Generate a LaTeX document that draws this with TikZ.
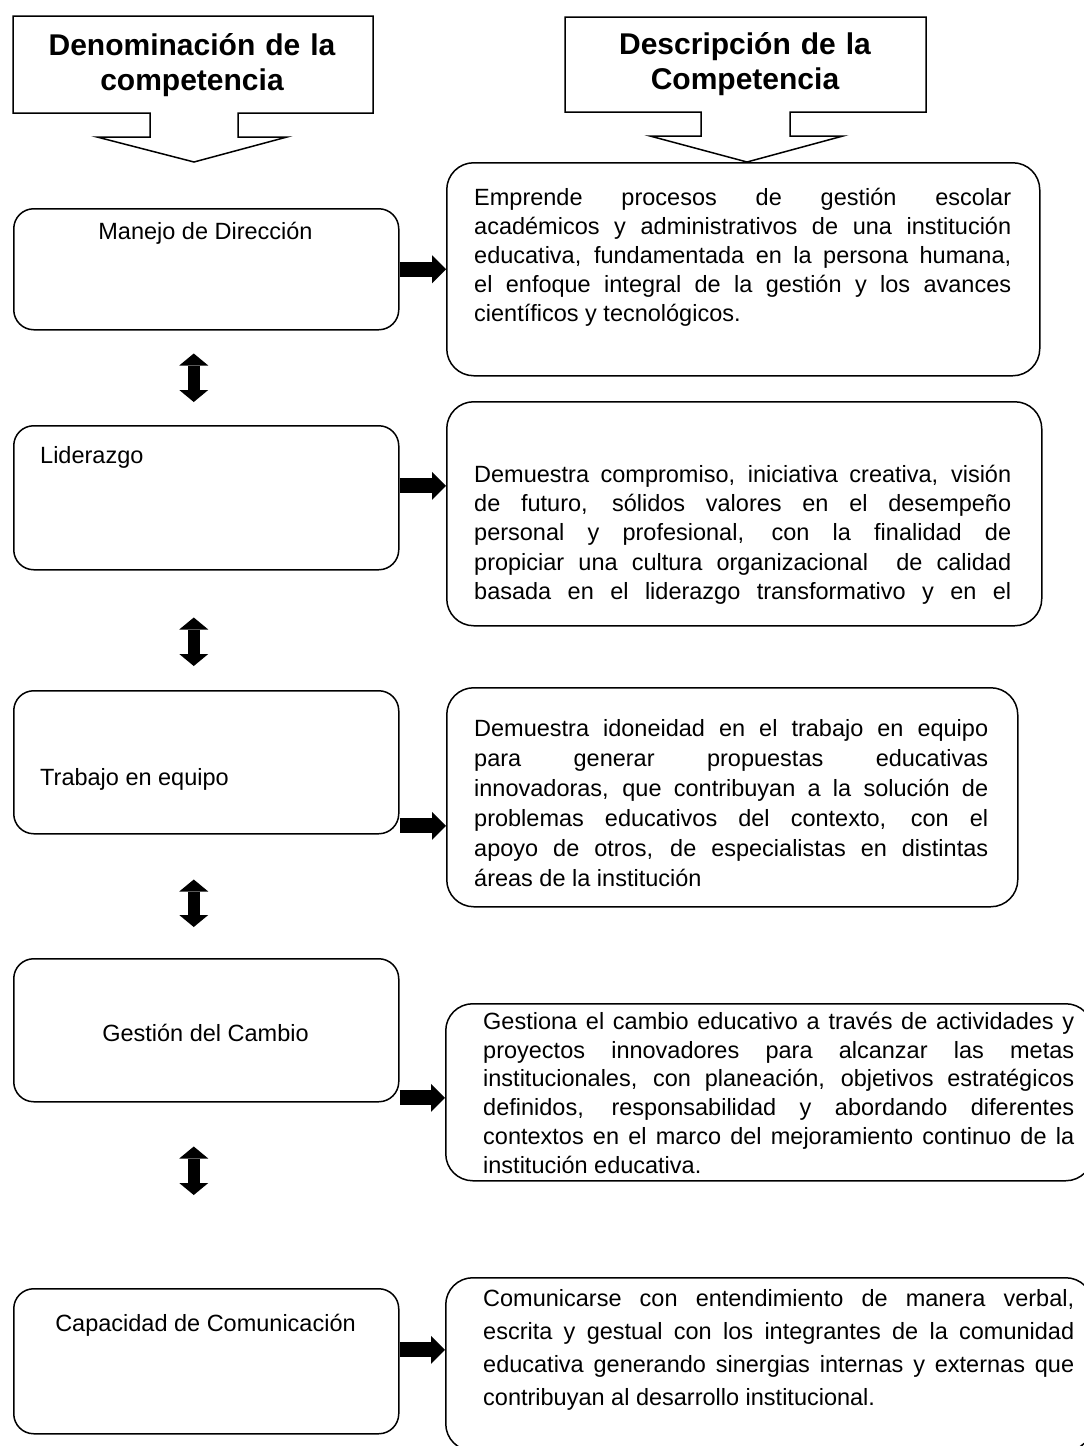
\documentclass[tikz,border=0pt]{standalone}
\usepackage{fontspec}
\setmainfont{Liberation Sans}
\usetikzlibrary{arrows.meta}
\newcommand\JL[2]{{\spaceskip=0pt\xspaceskip=0pt\makebox[#1][s]{#2}}}
\newcommand\NS{\spaceskip=0pt\xspaceskip=0pt}
\begin{document}
\begin{tikzpicture}[x=1pt,y=-1pt,
  lbox/.style={draw, line width=1.5pt, rounded corners=20pt, minimum width=385pt, anchor=north west, inner sep=0pt},
  dbox/.style={draw, line width=1.5pt, rounded corners=27pt, anchor=north west, inner sep=0pt},
  callout/.style={draw, line width=1.5pt, line join=miter},
  lab/.style={font=\fontsize{23.5}{28}\selectfont, inner sep=0pt},
  desc/.style={font=\fontsize{23.5}{29}\selectfont, inner sep=0pt, anchor=north west, align=left},
  head/.style={font=\bfseries\fontsize{30}{35}\selectfont, inner sep=0pt, anchor=north, align=center, text width=340pt},
  rarrow/.style={line width=15pt, -{Triangle[width=28pt 0 0,length=14pt 0 0,line width=0pt 0 0]}},
  darrow/.style={line width=12pt, {Triangle[width=29pt 0 0,length=12pt 0 0,line width=0pt 0 0]}-{Triangle[width=29pt 0 0,length=12pt 0 0,line width=0pt 0 0]}},
]
\useasboundingbox (0,0) rectangle (1084,1446);
\fill[white] (0,0) rectangle (1084,1446);
\clip (0,0) rectangle (1084,1446);

% header callouts
\draw[callout] (13,16) -- (373,16) -- (373,113) -- (238,113) -- (238,137) -- (287,137)
  -- (194,162) -- (97,137) -- (150,137) -- (150,113) -- (13,113) -- cycle;
\node[head] (h1) at (192,26) {\rule{0pt}{29pt}Denominación de la\\competencia};
\draw[callout] (565,17) -- (926,17) -- (926,112) -- (790,112) -- (790,136) -- (843,136)
  -- (747,162) -- (650,136) -- (701,136) -- (701,112) -- (565,112) -- cycle;
\node[head] (h2) at (745,25) {\rule{0pt}{29pt}Descripción de la\\Competencia};

% left boxes
\node[lbox, minimum height=121pt] (b1) at (13,208) {};
\node[lbox, minimum height=144pt] (b2) at (13,425) {};
\node[lbox, minimum height=143pt] (b3) at (13,690) {};
\node[lbox, minimum height=143pt] (b4) at (13,958) {};
\node[lbox, minimum height=145pt] (b5) at (13,1288) {};

\node[lab, anchor=base] (t1) at (205.5,239) {Manejo de Dirección};
\node[lab, anchor=base west] (t2) at (40,463) {Liderazgo};
\node[lab, anchor=base west] (t3) at (40,785) {Trabajo en equipo};
\node[lab, anchor=base] (t4) at (205.5,1041) {Gestión del Cambio};
\node[lab, anchor=base] (t5) at (205.5,1331) {Capacidad de Comunicación};

% description boxes
\node[dbox, minimum width=593pt, minimum height=213pt] (d1) at (446,162) {};
\node[dbox, minimum width=595pt, minimum height=224pt] (d2) at (446,401) {};
\node[dbox, minimum width=571pt, minimum height=219pt] (d3) at (446,687) {};
\node[dbox, minimum width=647pt, minimum height=177pt] (d4) at (445,1003) {};
\node[dbox, minimum width=647pt, minimum height=173pt] (d5) at (445,1277) {};

\node[desc, text width=537pt] (d1t) at (474,181) {\NS\rule{0pt}{24pt}%
\JL{537pt}{Emprende procesos de gestión escolar}\\
\JL{537pt}{académicos y administrativos de una institución}\\
\JL{537pt}{educativa, fundamentada en la persona humana,}\\
\JL{537pt}{el enfoque integral de la gestión y los avances}\\
científicos y tecnológicos.};

\node[desc, text width=537pt, font=\fontsize{23.5}{29.3}\selectfont] (d2t) at (474,458) {\NS\rule{0pt}{24pt}%
\JL{537pt}{Demuestra compromiso, iniciativa creativa, visión}\\
\JL{537pt}{de futuro, sólidos valores en el desempeño}\\
\JL{537pt}{personal y profesional, con la finalidad de}\\
\JL{537pt}{propiciar una cultura organizacional\ \ de calidad}\\
\JL{537pt}{basada en el liderazgo transformativo y en el}};

\node[desc, text width=514pt, font=\fontsize{23.5}{30}\selectfont] (d3t) at (474,712) {\NS\rule{0pt}{24pt}%
\JL{514pt}{Demuestra idoneidad en el trabajo en equipo}\\
\JL{514pt}{para generar propuestas educativas}\\
\JL{514pt}{innovadoras, que contribuyan a la solución de}\\
\JL{514pt}{problemas educativos del contexto, con el}\\
\JL{514pt}{apoyo de otros, de especialistas en distintas}\\
áreas de la institución};

\node[desc, text width=591pt, font=\fontsize{23.5}{28.8}\selectfont] (d4t) at (483,1005) {\NS\rule{0pt}{24pt}%
\JL{591pt}{Gestiona el cambio educativo a través de actividades y}\\
\JL{591pt}{proyectos innovadores para alcanzar las metas}\\
\JL{591pt}{institucionales, con planeación, objetivos estratégicos}\\
\JL{591pt}{definidos, responsabilidad y abordando diferentes}\\
\JL{591pt}{contextos en el marco del mejoramiento continuo de la}\\
institución educativa.};

\node[desc, text width=591pt, font=\fontsize{23.5}{33}\selectfont] (d5t) at (483,1282) {\NS\rule{0pt}{24pt}%
\JL{591pt}{Comunicarse con entendimiento de manera verbal,}\\
\JL{591pt}{escrita y gestual con los integrantes de la comunidad}\\
\JL{591pt}{educativa generando sinergias internas y externas que}\\
contribuyan al desarrollo institucional.};

% right arrows
\coordinate (r1) at (b1.east);
\coordinate (r2) at ([yshift=12pt]b2.east);
\coordinate (r3) at ([yshift=-63.5pt]b3.east);
\coordinate (r4) at ([yshift=-67.5pt]b4.east);
\coordinate (r5) at ([yshift=11.5pt]b5.east);
\draw[rarrow] (r1) -- (r1 -| d1.west);
\draw[rarrow] (r2) -- (r2 -| d2.west);
\draw[rarrow] (r3) -- (r3 -| d3.west);
\draw[rarrow] (r4) -- (r4 -| d4.west);
\draw[rarrow] (r5) -- (r5 -| d5.west);

% double arrows
\draw[darrow] ([xshift=-12.5pt,yshift=-23pt]b1.south) -- ([xshift=-12.5pt,yshift=23pt]b2.north);
\draw[darrow] ([xshift=-12.5pt,yshift=-47pt]b2.south) -- ([xshift=-12.5pt,yshift=24pt]b3.north);
\draw[darrow] ([xshift=-12.5pt,yshift=-45pt]b3.south) -- ([xshift=-12.5pt,yshift=31pt]b4.north);
\draw[darrow] ([xshift=-12.5pt,yshift=-44pt]b4.south) -- ([xshift=-12.5pt,yshift=93pt]b5.north);
\end{tikzpicture}
\end{document}
